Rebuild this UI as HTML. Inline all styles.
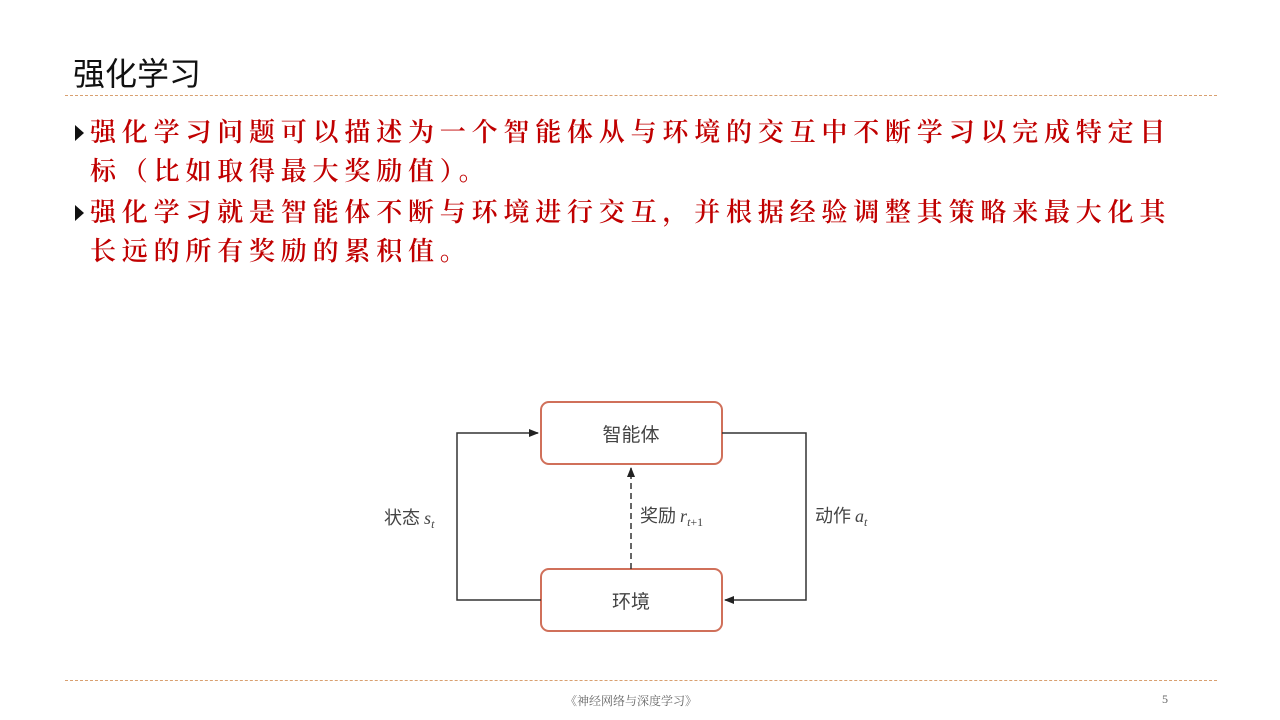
<!DOCTYPE html>
<html><head><meta charset="utf-8"><style>
html,body{margin:0;padding:0;background:#fff;}
body{width:1280px;height:720px;position:relative;overflow:hidden;font-family:"Liberation Sans","Noto Sans CJK SC",sans-serif;}
.title{position:absolute;left:73px;top:49px;font-size:32px;color:#111;}
.hr{position:absolute;left:65px;width:1152px;border-top:1px dashed #d9a070;}
.p{position:absolute;left:75px;font-family:"Liberation Serif","Noto Serif CJK SC",serif;font-weight:600;color:#c00000;font-size:26px;letter-spacing:5.8px;line-height:39px;width:1110px;}
.p .b{position:absolute;left:0;top:12px;width:0;height:0;border-left:9px solid #111;border-top:8px solid transparent;border-bottom:8px solid transparent;}
.p .t{padding-left:15px;}
.foot{position:absolute;top:692px;font-size:12px;color:#666;font-family:"Liberation Serif","Noto Serif CJK SC",serif;}
</style></head><body>
<div class="title">强化学习</div>
<div class="hr" style="top:95px"></div>
<div class="p" style="top:113px"><div class="b"></div><div class="t">强化学习问题可以描述为一个智能体从与环境的交互中不断学习以完成特定目标（比如取得最大奖励值）。</div></div>
<div class="p" style="top:193px"><div class="b"></div><div class="t">强化学习就是智能体不断与环境进行交互，并根据经验调整其策略来最大化其长远的所有奖励的累积值。</div></div>
<svg width="1280" height="720" style="position:absolute;left:0;top:0" xmlns="http://www.w3.org/2000/svg">
<defs><marker id="a" markerWidth="10" markerHeight="8" refX="9" refY="4" orient="auto" markerUnits="userSpaceOnUse"><path d="M0,0 L10,4 L0,8 Z" fill="#222"/></marker></defs>
<rect x="541" y="402" width="181" height="62" rx="8" fill="#fff" stroke="#d0705a" stroke-width="2"/>
<rect x="541" y="569" width="181" height="62" rx="8" fill="#fff" stroke="#d0705a" stroke-width="2"/>
<text x="631" y="441" font-size="19" text-anchor="middle" fill="#444" font-family="Noto Sans CJK SC,sans-serif">智能体</text>
<text x="631" y="608" font-size="19" text-anchor="middle" fill="#444" font-family="Noto Sans CJK SC,sans-serif">环境</text>
<polyline points="541,600 457,600 457,433 538,433" fill="none" stroke="#333" stroke-width="1.5" marker-end="url(#a)"/>
<polyline points="722,433 806,433 806,600 725,600" fill="none" stroke="#333" stroke-width="1.5" marker-end="url(#a)"/>
<line x1="631" y1="569" x2="631" y2="468" stroke="#333" stroke-width="1.5" stroke-dasharray="6,4" marker-end="url(#a)"/>
<text x="384" y="524" font-size="18" fill="#444" font-family="Noto Sans CJK SC,sans-serif">状态 <tspan font-family="Liberation Serif" font-style="italic">s</tspan><tspan font-family="Liberation Serif" font-style="italic" font-size="12" dy="4">t</tspan></text>
<text x="640" y="522" font-size="18" fill="#444" font-family="Noto Sans CJK SC,sans-serif">奖励 <tspan font-family="Liberation Serif" font-style="italic">r</tspan><tspan font-family="Liberation Serif" font-size="12" dy="4"><tspan font-style="italic">t</tspan>+1</tspan></text>
<text x="815" y="522" font-size="18" fill="#444" font-family="Noto Sans CJK SC,sans-serif">动作 <tspan font-family="Liberation Serif" font-style="italic">a</tspan><tspan font-family="Liberation Serif" font-style="italic" font-size="12" dy="4">t</tspan></text>
</svg>
<div class="hr" style="top:680px"></div>
<div class="foot" style="left:565px">《神经网络与深度学习》</div>
<div class="foot" style="left:1162px">5</div>
</body></html>
